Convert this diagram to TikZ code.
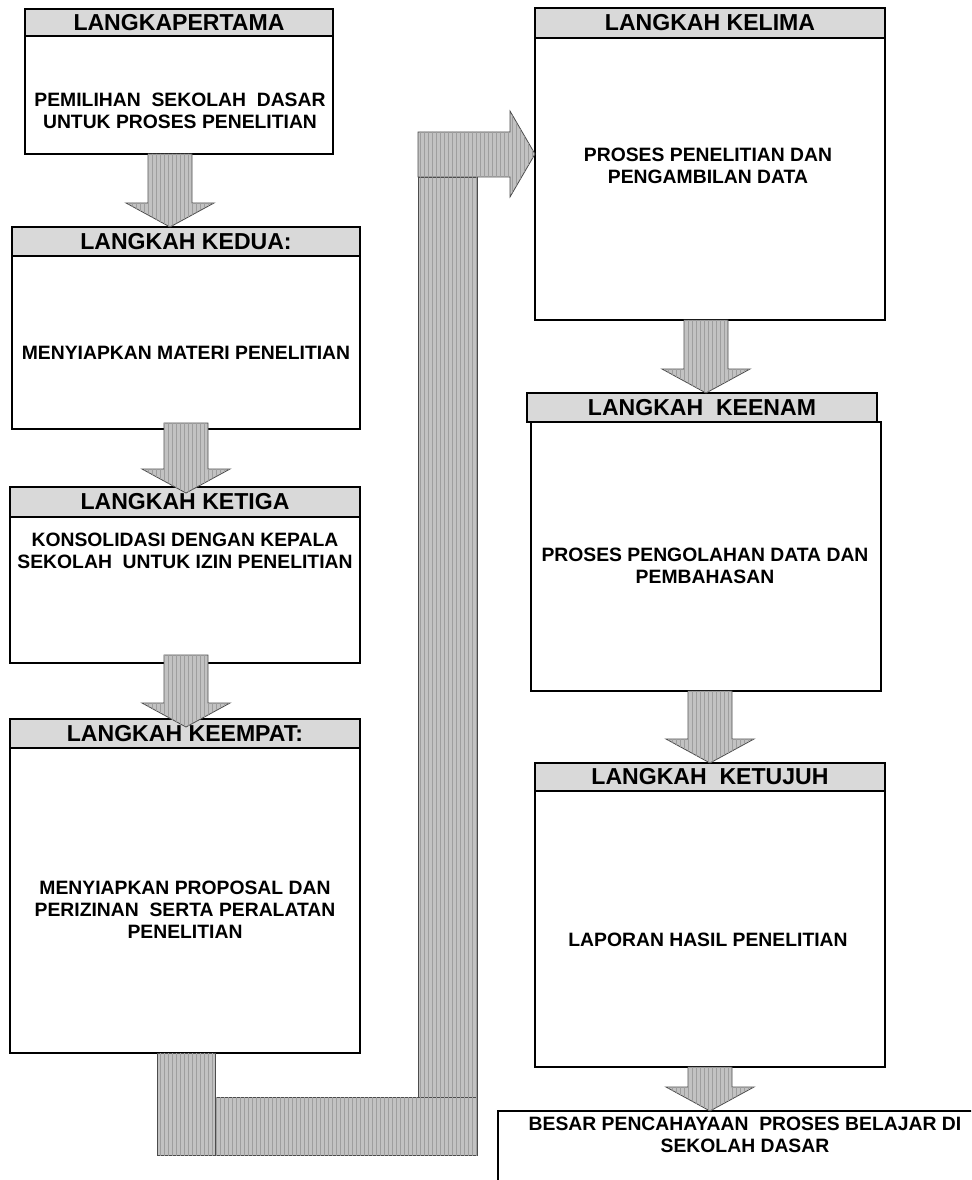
\documentclass[tikz,border=0pt]{standalone}
\usepackage{fontspec}
\setmainfont{Liberation Sans}
\usetikzlibrary{positioning,calc,patterns}

\newcommand{\panahbawah}[4]{%
\path[panah] let \p1=(#2.south), \p2=(#3.north) in
 ({(#1-22)*0.75pt},{\y1+#4*0.75pt}) -- ({(#1+22)*0.75pt},{\y1+#4*0.75pt})
 -- ({(#1+22)*0.75pt},{\y2-#4*0.75pt+18pt}) -- ({(#1+44)*0.75pt},{\y2-#4*0.75pt+18pt})
 -- ({#1*0.75pt},{\y2-#4*0.75pt}) -- ({(#1-44)*0.75pt},{\y2-#4*0.75pt+18pt})
 -- ({(#1-22)*0.75pt},{\y2-#4*0.75pt+18pt}) -- cycle;}

\begin{document}
\begin{tikzpicture}[x=0.75pt,y=-0.75pt]
\useasboundingbox (0,0) rectangle (971,1180);
\clip (0,0) rectangle (971,1180);

\tikzstyle{kepala}=[draw,line width=1.9pt,fill=black!15,outer sep=0pt,inner sep=0pt,
  font=\fontsize{17.3}{19}\selectfont\bfseries]
\tikzstyle{isi}=[draw,line width=1.9pt,outer sep=0pt,inner sep=0pt]
\tikzstyle{teks}=[align=center,inner sep=0pt,font=\fontsize{14.5}{16.5}\selectfont\bfseries]
\tikzstyle{panah}=[draw=black!70,line width=0.6pt,fill=black!24,
  postaction={pattern=vertical lines,pattern color=black!38}]

\node[kepala,minimum width=231pt,minimum height=20.25pt,anchor=north west] (kepala1) at (25,9) {LANGKAPERTAMA};
\node[isi,minimum width=231pt,minimum height=88.5pt,below=0pt of kepala1] (isi1) {};
\node[teks] (teks1) at (180,111) {PEMILIHAN~ SEKOLAH~ DASAR\\UNTUK PROSES PENELITIAN};

\node[kepala,minimum width=261pt,minimum height=21.75pt,anchor=north west] (kepala2) at (12,227) {LANGKAH KEDUA:};
\node[isi,minimum width=261pt,minimum height=129.75pt,below=0pt of kepala2] (isi2) {};
\node[teks] (teks2) at (186,353) {MENYIAPKAN MATERI PENELITIAN};

\node[kepala,minimum width=262.5pt,minimum height=22.5pt,anchor=north west] (kepala3) at (10,487) {LANGKAH KETIGA};
\node[isi,minimum width=262.5pt,minimum height=109.5pt,below=0pt of kepala3] (isi3) {};
\node[teks] (teks3) at (185,551) {KONSOLIDASI DENGAN KEPALA\\SEKOLAH~ UNTUK IZIN PENELITIAN};

\node[kepala,minimum width=262.5pt,minimum height=21.75pt,anchor=north west] (kepala4) at (10,719) {LANGKAH KEEMPAT:};
\node[isi,minimum width=262.5pt,minimum height=228.75pt,below=0pt of kepala4] (isi4) {};
\node[teks] (teks4) at (185,910) {MENYIAPKAN PROPOSAL DAN\\PERIZINAN~ SERTA PERALATAN\\PENELITIAN};

\node[kepala,minimum width=262.5pt,minimum height=22.5pt,anchor=north west] (kepala5) at (535,8) {LANGKAH KELIMA};
\node[isi,minimum width=262.5pt,minimum height=211.5pt,below=0pt of kepala5] (isi5) {};
\node[teks] (teks5) at (708,166) {PROSES PENELITIAN DAN\\PENGAMBILAN DATA};

\node[kepala,minimum width=262.5pt,minimum height=21.75pt,anchor=north west] (kepala6) at (527,393) {LANGKAH~ KEENAM};
\node[isi,minimum width=262.5pt,minimum height=201.75pt,below=0pt of kepala6,xshift=3pt] (isi6) {};
\node[teks] (teks6) at (705,566) {PROSES PENGOLAHAN DATA DAN\\PEMBAHASAN};

\node[kepala,minimum width=262.5pt,minimum height=21pt,anchor=north west] (kepala7) at (535,763) {LANGKAH~ KETUJUH};
\node[isi,minimum width=262.5pt,minimum height=207pt,below=0pt of kepala7] (isi7) {};
\node[teks] (teks7) at (708,940) {LAPORAN HASIL PENELITIAN};

\node[minimum width=375pt,minimum height=75pt,anchor=north west,outer sep=0pt] (akhir) at (498,1111) {};
\draw[line width=1.9pt] (akhir.south west) -- (akhir.north west) -- (akhir.north east);
\node[teks] (teks8) at (745,1135) {BESAR PENCAHAYAAN~ PROSES BELAJAR DI\\SEKOLAH DASAR};

\panahbawah{170}{isi1}{kepala2}{0}
\panahbawah{186}{isi2}{kepala3}{6}
\panahbawah{186}{isi3}{kepala4}{8}
\panahbawah{706}{isi5}{kepala6}{0}
\panahbawah{710}{isi6}{kepala7}{0}
\panahbawah{710}{isi7}{akhir}{0}

\path[panah] (157,1053) rectangle (215,1155);
\path[panah] (215,1097) rectangle (477,1155);
\path[panah] (418,177) rectangle (477,1097);
\path[panah] (418,132) -- (510,132) -- (510,111) -- (535,154) -- (510,197) -- (510,177) -- (418,177) -- cycle;

\end{tikzpicture}
\end{document}
